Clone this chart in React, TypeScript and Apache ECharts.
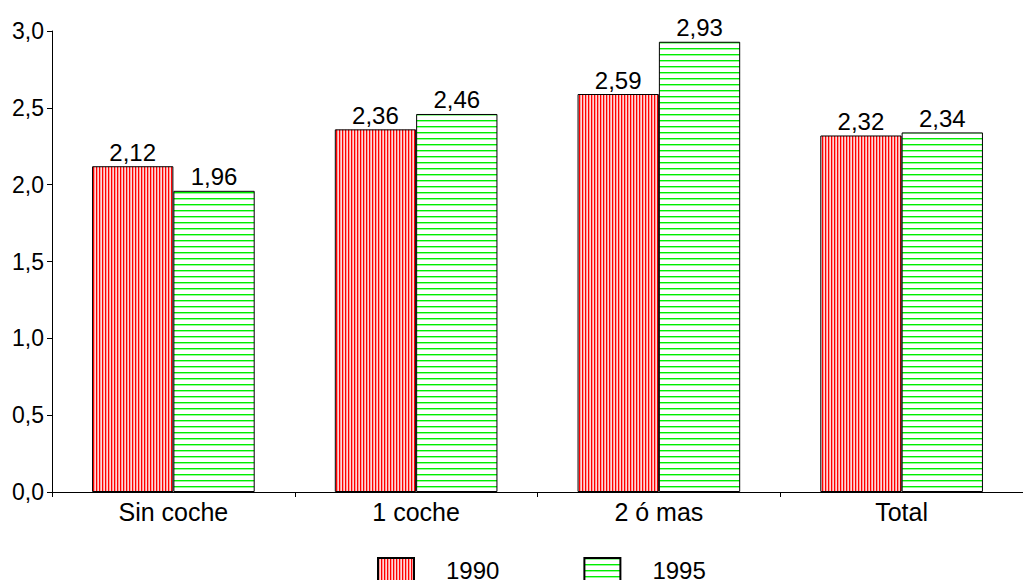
import React, { useEffect, useRef } from "react";
import * as echarts from "echarts";

const categories = ["Sin coche", "1 coche", "2 ó mas", "Total"];
const values1990 = [2.12, 2.36, 2.59, 2.32];
const values1995 = [1.96, 2.46, 2.93, 2.34];
const seriesNames = ["1990", "1995"];

function redPattern() {
  const c = document.createElement("canvas");
  c.width = 3;
  c.height = 4;
  const ctx = c.getContext("2d")!;
  ctx.fillStyle = "#ffffff";
  ctx.fillRect(0, 0, 3, 4);
  ctx.fillStyle = "#ff0000";
  ctx.fillRect(0, 0, 1, 4);
  ctx.fillStyle = "#ff9a9a";
  ctx.fillRect(1, 0, 1, 4);
  ctx.fillStyle = "#ffd8d8";
  ctx.fillRect(2, 0, 1, 4);
  return c;
}

function greenPattern() {
  const c = document.createElement("canvas");
  c.width = 4;
  c.height = 6;
  const ctx = c.getContext("2d")!;
  ctx.fillStyle = "#ffffff";
  ctx.fillRect(0, 0, 4, 6);
  ctx.fillStyle = "#00ee00";
  ctx.fillRect(0, 0, 4, 1.4);
  return c;
}

const fmt = (v: number) => v.toFixed(2).replace(".", ",");

export default function App() {
  const ref = useRef<HTMLDivElement>(null);
  useEffect(() => {
    document.body.style.margin = "0";
    const chart = echarts.init(ref.current!, undefined, { renderer: "svg" });
    const red = { image: redPattern(), repeat: "repeat" } as any;
    const green = { image: greenPattern(), repeat: "repeat" } as any;
    const font = "'Liberation Sans', Arial, sans-serif";
    const labelCfg = {
      show: true,
      position: "top",
      distance: 2,
      fontSize: 24,
      color: "#000",
      fontFamily: font,
      formatter: (p: any) => fmt(p.value),
    };
    chart.setOption({
      animation: false,
      textStyle: { fontFamily: font },
      grid: { left: 52, top: 31, width: 974, bottom: 88, containLabel: false },
      legend: {
        top: 557,
        left: 377,
        padding: 0,
        icon: "rect",
        itemWidth: 36,
        itemHeight: 24,
        itemGap: 84,
        textStyle: { fontSize: 24, color: "#000", fontFamily: font, padding: [0, 0, 0, 27] },
        data: seriesNames,
      },
      xAxis: {
        type: "category",
        data: categories,
        axisLine: { lineStyle: { color: "#000", width: 1 } },
        axisTick: { show: true, length: 5, lineStyle: { color: "#000" } },
        axisLabel: { fontSize: 25, color: "#000", fontFamily: font, margin: 7 },
      },
      yAxis: {
        type: "value",
        min: 0,
        max: 3,
        interval: 0.5,
        splitLine: { show: false },
        axisLine: { show: true, lineStyle: { color: "#000", width: 1 } },
        axisTick: { show: true, length: 5, lineStyle: { color: "#000" } },
        axisLabel: {
          fontSize: 23,
          color: "#000",
          fontFamily: font,
          margin: 8,
          formatter: (v: number) => v.toFixed(1).replace(".", ","),
        },
      },
      series: [
        {
          name: seriesNames[0],
          type: "bar",
          data: values1990,
          barGap: "0%",
          barCategoryGap: "33%",
          itemStyle: { color: red, borderColor: "#000", borderWidth: 1 },
          label: labelCfg,
        },
        {
          name: seriesNames[1],
          type: "bar",
          data: values1995,
          barGap: "0%",
          barCategoryGap: "33%",
          itemStyle: { color: green, borderColor: "#000", borderWidth: 1 },
          label: labelCfg,
        },
      ],
    });
    return () => chart.dispose();
  }, []);
  return <div ref={ref} style={{ width: 1023, height: 580 }} />;
}
